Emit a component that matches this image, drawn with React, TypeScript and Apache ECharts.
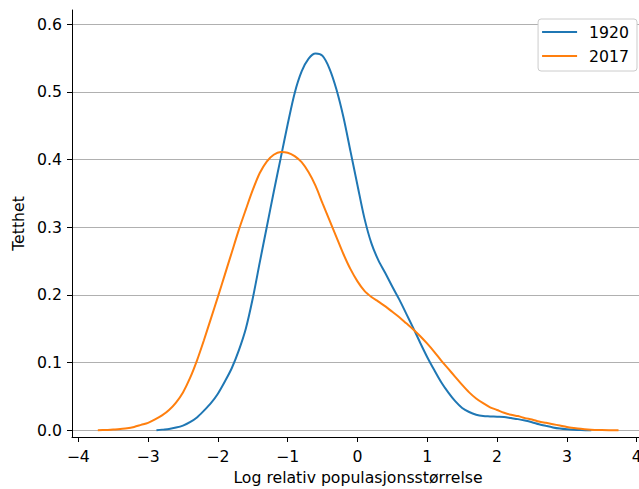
import React, { useEffect, useRef } from "react";
import * as echarts from "echarts";

const seriesNames = ["1920", "2017"];

const x1920 = [-2.88, -2.8, -2.7, -2.6, -2.5, -2.4, -2.3, -2.2, -2.1, -2.0, -1.9, -1.8, -1.7, -1.6, -1.5, -1.4, -1.3, -1.2, -1.1, -1.0, -0.9, -0.8, -0.7, -0.6, -0.5, -0.4, -0.3, -0.2, -0.1, 0.0, 0.1, 0.2, 0.3, 0.4, 0.5, 0.6, 0.7, 0.8, 0.9, 1.0, 1.1, 1.2, 1.3, 1.4, 1.5, 1.6, 1.7, 1.8, 1.9, 2.0, 2.1, 2.2, 2.3, 2.4, 2.5, 2.6, 2.7, 2.8, 2.9, 3.0, 3.1, 3.2, 3.35];
const y1920 = [0.0, 0.001, 0.002, 0.004, 0.007, 0.012, 0.019, 0.029, 0.040, 0.054, 0.072, 0.092, 0.118, 0.150, 0.195, 0.248, 0.300, 0.352, 0.402, 0.452, 0.498, 0.530, 0.549, 0.5565, 0.553, 0.534, 0.503, 0.462, 0.412, 0.362, 0.313, 0.276, 0.251, 0.232, 0.212, 0.193, 0.172, 0.151, 0.129, 0.108, 0.089, 0.071, 0.056, 0.043, 0.033, 0.027, 0.023, 0.021, 0.0205, 0.020, 0.0195, 0.018, 0.0165, 0.0145, 0.012, 0.009, 0.0065, 0.0042, 0.0025, 0.0014, 0.0007, 0.0003, 0.0];

const x2017 = [-3.72, -3.6, -3.5, -3.4, -3.3, -3.2, -3.1, -3.0, -2.9, -2.8, -2.7, -2.6, -2.5, -2.4, -2.3, -2.2, -2.1, -2.0, -1.9, -1.8, -1.7, -1.6, -1.5, -1.4, -1.3, -1.2, -1.1, -1.0, -0.9, -0.8, -0.7, -0.6, -0.5, -0.4, -0.3, -0.2, -0.1, 0.0, 0.1, 0.2, 0.3, 0.4, 0.5, 0.6, 0.7, 0.8, 0.9, 1.0, 1.1, 1.2, 1.3, 1.4, 1.5, 1.6, 1.7, 1.8, 1.9, 2.0, 2.1, 2.2, 2.3, 2.4, 2.5, 2.6, 2.7, 2.8, 2.9, 3.0, 3.1, 3.2, 3.3, 3.4, 3.5, 3.74];
const y2017 = [0.0, 0.0005, 0.001, 0.002, 0.003, 0.005, 0.008, 0.011, 0.016, 0.022, 0.030, 0.041, 0.056, 0.077, 0.103, 0.133, 0.165, 0.197, 0.230, 0.263, 0.296, 0.326, 0.355, 0.380, 0.397, 0.407, 0.411, 0.410, 0.405, 0.396, 0.381, 0.361, 0.335, 0.310, 0.285, 0.260, 0.238, 0.220, 0.206, 0.197, 0.190, 0.183, 0.175, 0.167, 0.158, 0.149, 0.139, 0.128, 0.116, 0.103, 0.091, 0.079, 0.067, 0.056, 0.047, 0.040, 0.034, 0.030, 0.026, 0.023, 0.021, 0.018, 0.016, 0.013, 0.011, 0.009, 0.007, 0.005, 0.0035, 0.0022, 0.0012, 0.0006, 0.0003, 0.0];

const xTicks = [-4, -3, -2, -1, 0, 1, 2, 3, 4];
const yTicks = [0, 0.1, 0.2, 0.3, 0.4, 0.5, 0.6];

const xName = "Log relativ populasjonsstørrelse";
const yName = "Tetthet";

const FONT = "DejaVu Sans";
const FS = 15.7;

export default function App() {
  const ref = useRef<HTMLDivElement>(null);
  useEffect(() => {
    if (!ref.current) return;
    const chart = echarts.init(ref.current, undefined, { renderer: "svg" });
    const pairs = (xs: number[], ys: number[]) => xs.map((x, i) => [x, ys[i]]);
    chart.setOption({
      animation: false,
      backgroundColor: "#ffffff",
      textStyle: { fontFamily: FONT },
      grid: { left: 72, top: 10, width: 572, height: 427, containLabel: false, outerBoundsMode: "none" },
      legend: {
        orient: "vertical",
        right: 2,
        top: 19,
        backgroundColor: "#ffffff",
        borderColor: "#cccccc",
        borderWidth: 1,
        borderRadius: 3,
        padding: [4, 8, 6, 4],
        icon: "rect",
        itemWidth: 35,
        itemHeight: 2,
        itemGap: 6,
        textStyle: { fontFamily: FONT, fontSize: FS, color: "#000", lineHeight: 18, padding: [0, 0, 0, 7] },
        data: seriesNames,
        z: 10,
      },
      xAxis: {
        type: "value",
        min: -4.09,
        max: 4.105,
        name: xName,
        nameLocation: "middle",
        nameGap: 32,
        nameTextStyle: { fontFamily: FONT, fontSize: FS, color: "#000" },
        axisLine: { show: true, onZero: false, lineStyle: { color: "#000", width: 1 } },
        axisTick: { show: true, length: 5, lineStyle: { color: "#000" }, customValues: xTicks },
        axisLabel: {
          fontFamily: FONT,
          fontSize: FS,
          color: "#000",
          margin: 11,
          customValues: xTicks,
          formatter: (v: number) => (v < 0 ? "\u2212" + Math.abs(v) : String(v)),
        },
        splitLine: { show: false },
      },
      yAxis: {
        type: "value",
        min: -0.0099,
        max: 0.6208,
        name: yName,
        nameLocation: "middle",
        nameGap: 45,
        nameTextStyle: { fontFamily: FONT, fontSize: FS, color: "#000" },
        axisLine: { show: true, onZero: false, lineStyle: { color: "#000", width: 1 } },
        axisTick: { show: true, length: 5, lineStyle: { color: "#000" }, customValues: yTicks },
        axisLabel: {
          fontFamily: FONT,
          fontSize: FS,
          color: "#000",
          margin: 10,
          customValues: yTicks,
          formatter: (v: number) => v.toFixed(1),
        },
        splitLine: { show: true, lineStyle: { color: "#b0b0b0", width: 1 } },
      },
      series: [
        {
          name: seriesNames[0],
          type: "line",
          data: pairs(x1920, y1920),
          symbol: "none",
          smooth: 0.3,
          lineStyle: { color: "#1f77b4", width: 2 },
          itemStyle: { color: "#1f77b4" },
        },
        {
          name: seriesNames[1],
          type: "line",
          data: pairs(x2017, y2017),
          symbol: "none",
          smooth: 0.3,
          lineStyle: { color: "#ff7f0e", width: 2 },
          itemStyle: { color: "#ff7f0e" },
        },
      ],
    });
    return () => chart.dispose();
  }, []);
  return <div ref={ref} style={{ width: 639, height: 489, position: "fixed", left: 0, top: 0 }} />;
}
